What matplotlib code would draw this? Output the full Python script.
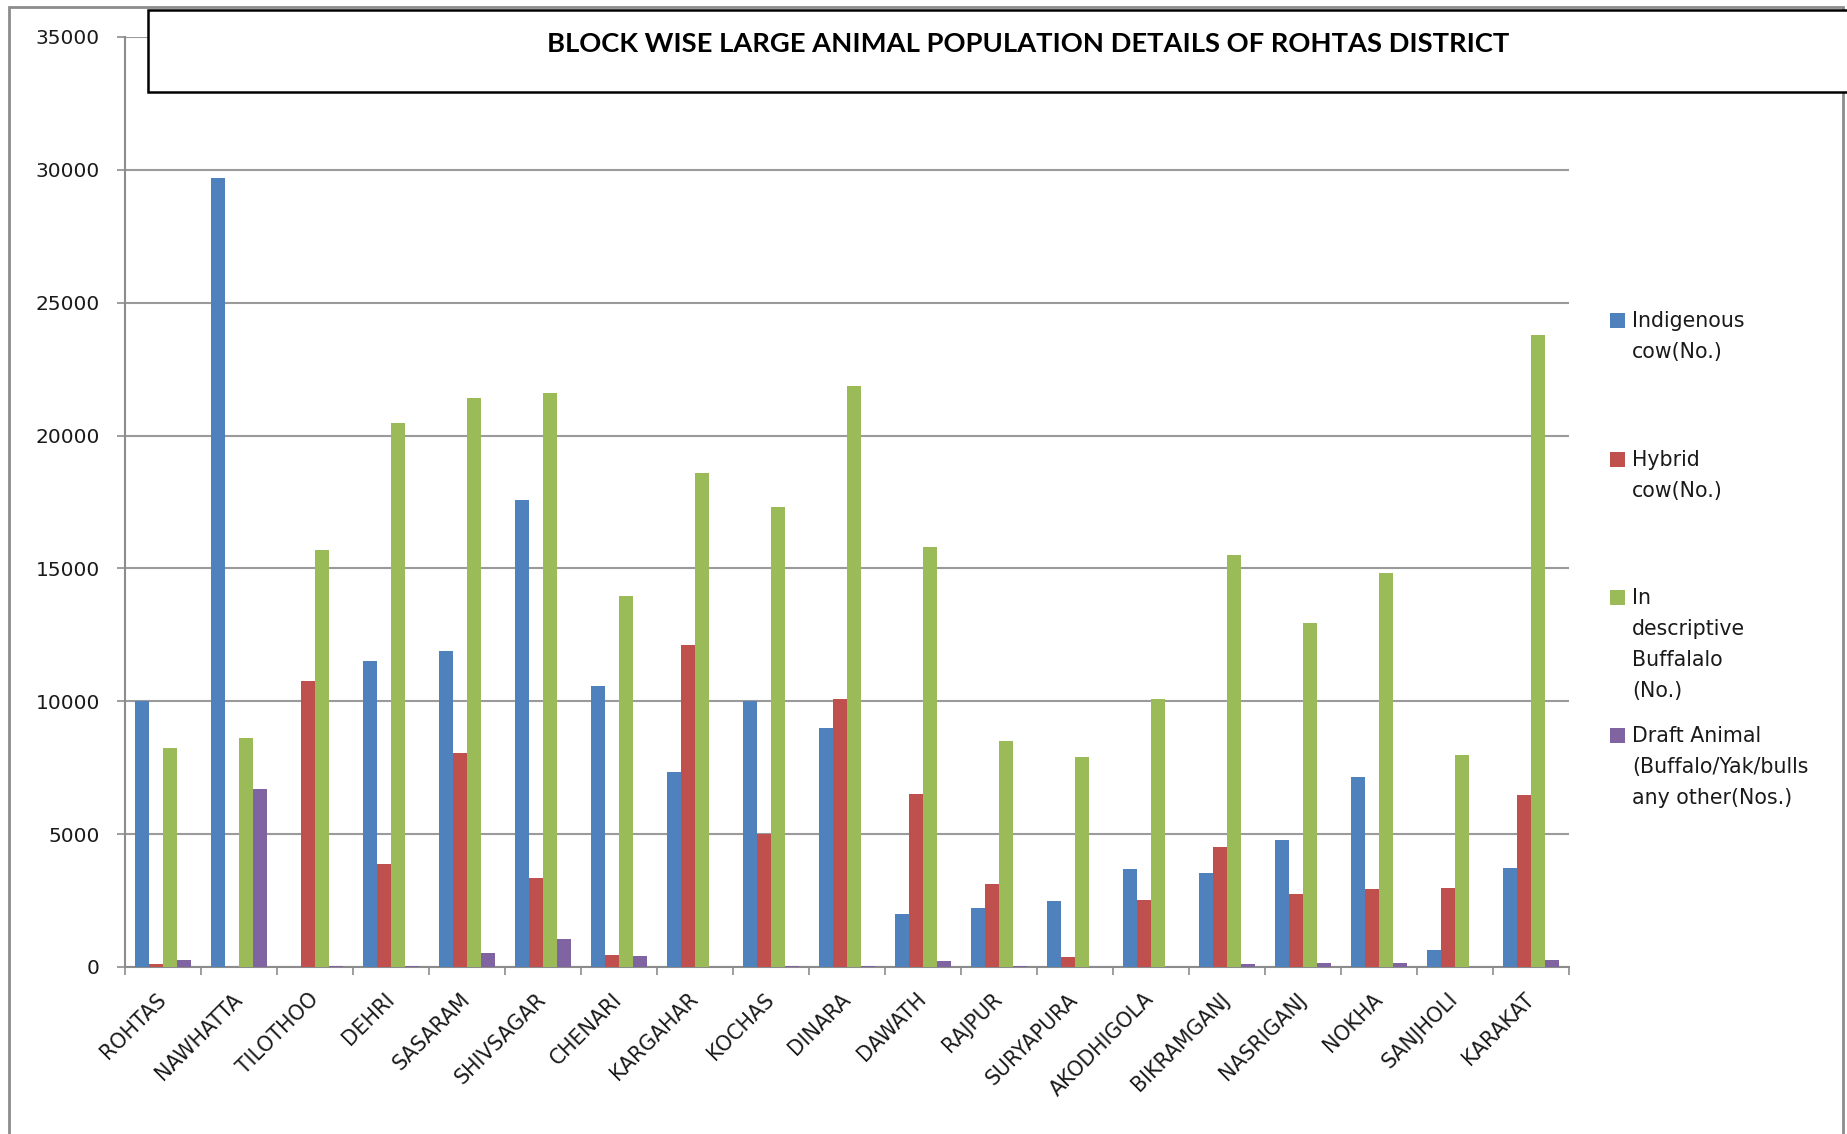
import numpy as np
import matplotlib
matplotlib.use("Agg")
import matplotlib.pyplot as plt
from matplotlib.patches import Rectangle

# block wise counts
blocks = ['ROHTAS', 'NAWHATTA', 'TILOTHOO', 'DEHRI', 'SASARAM', 'SHIVSAGAR', 'CHENARI',
          'KARGAHAR', 'KOCHAS', 'DINARA', 'DAWATH', 'RAJPUR', 'SURYAPURA', 'AKODHIGOLA',
          'BIKRAMGANJ', 'NASRIGANJ', 'NOKHA', 'SANJHOLI', 'KARAKAT']
indigenous = [10000, 29700, 0, 11520, 11890, 17560, 10560, 7340, 10000, 8990,
              1990, 2210, 2470, 3680, 3530, 4770, 7160, 640, 3720]
hybrid = [100, 0, 10750, 3890, 8040, 3350, 450, 12120, 4990, 10100,
          6520, 3110, 360, 2520, 4530, 2750, 2940, 2990, 6470]
buffalo = [8230, 8630, 15690, 20460, 21430, 21620, 13980, 18580, 17300, 21880,
           15820, 8490, 7900, 10100, 15490, 12930, 14810, 7980, 23770]
draft = [280, 6700, 50, 50, 510, 1060, 400, 0, 50, 50,
         230, 50, 0, 0, 100, 140, 140, 0, 280]

series = [indigenous, hybrid, buffalo, draft]
labels = ['Indigenous\ncow(No.)', 'Hybrid\ncow(No.)',
          'In\ndescriptive\nBuffalalo\n(No.)',
          'Draft Animal\n(Buffalo/Yak/bulls\nany other(Nos.)']
colors = ['#4F81BD', '#C0504D', '#9BBB59', '#8064A2']

W, H = 1847, 1134
fig = plt.figure(figsize=(W / 100, H / 100), dpi=100)
fig.patch.set_facecolor('white')
plt.rcParams['font.family'] = ['DejaVu Sans']

ax = fig.add_axes([125 / W, 1 - 967 / H, 1444 / W, (967 - 37) / H])

x = np.arange(len(blocks))
w = 1 / 5.5  # gap width 150%
for i, (vals, c) in enumerate(zip(series, colors)):
    ax.bar(x + (i - 1.5) * w, vals, width=w, color=c, zorder=3, linewidth=0)

ax.set_xlim(-0.5, len(blocks) - 0.5)
ax.set_ylim(0, 35000)
ax.set_yticks(np.arange(0, 35001, 5000))
ax.yaxis.grid(True, color='#9a9a9a', linewidth=1.5, zorder=0)
ax.set_axisbelow(True)

for s in ['top', 'right']:
    ax.spines[s].set_visible(False)
for s in ['left', 'bottom']:
    ax.spines[s].set_color('#8c8c8c')
    ax.spines[s].set_linewidth(1.5)

ax.tick_params(axis='y', direction='out', length=6, width=1.2, color='#8c8c8c',
               labelsize=14.5, pad=12, labelcolor='#1a1a1a')

# category labels at centres, tick marks on the boundaries
ax.set_xticks(x)
ax.set_xticklabels(blocks, rotation=45, ha='right', va='center',
                   rotation_mode='anchor', fontsize=14.8, color='#1a1a1a')
ax.tick_params(axis='x', which='major', length=0, pad=21)
ax.set_xticks(np.arange(-0.5, len(blocks), 1), minor=True)
ax.tick_params(axis='x', which='minor', direction='out', length=6, width=1.2,
               color='#8c8c8c')

# outer chart border
fig.add_artist(Rectangle((9 / W, -0.05), (1843 - 9) / W, 0.05 + 1 - 7 / H,
                         transform=fig.transFigure, fill=False,
                         edgecolor='#8c8c8c', linewidth=2, zorder=1))

# title box
fig.add_artist(Rectangle((148 / W, 1 - 92 / H), 1.0, (92 - 10) / H,
                         transform=fig.transFigure, facecolor='white',
                         edgecolor='black', linewidth=1.8, zorder=5))
fig.text(1028 / W, 1 - 44 / H,
         'BLOCK WISE LARGE ANIMAL POPULATION DETAILS OF ROHTAS DISTRICT',
         ha='center', va='center', fontsize=19.7, fontweight='bold',
         family=['Lato', 'DejaVu Sans'], zorder=6)

# legend
starts = [321, 460, 598, 736]
for lab, c, y0 in zip(labels, colors, starts):
    fig.add_artist(Rectangle((1610 / W, 1 - (y0 + 7) / H), 15 / W, 15 / H,
                             transform=fig.transFigure, facecolor=c,
                             edgecolor='none'))
    for k, line in enumerate(lab.split('\n')):
        fig.text(1632 / W, 1 - (y0 + 31 * k) / H, line, ha='left', va='center',
                 fontsize=14.8, color='#1a1a1a')

fig.savefig('out.png', dpi=100)
